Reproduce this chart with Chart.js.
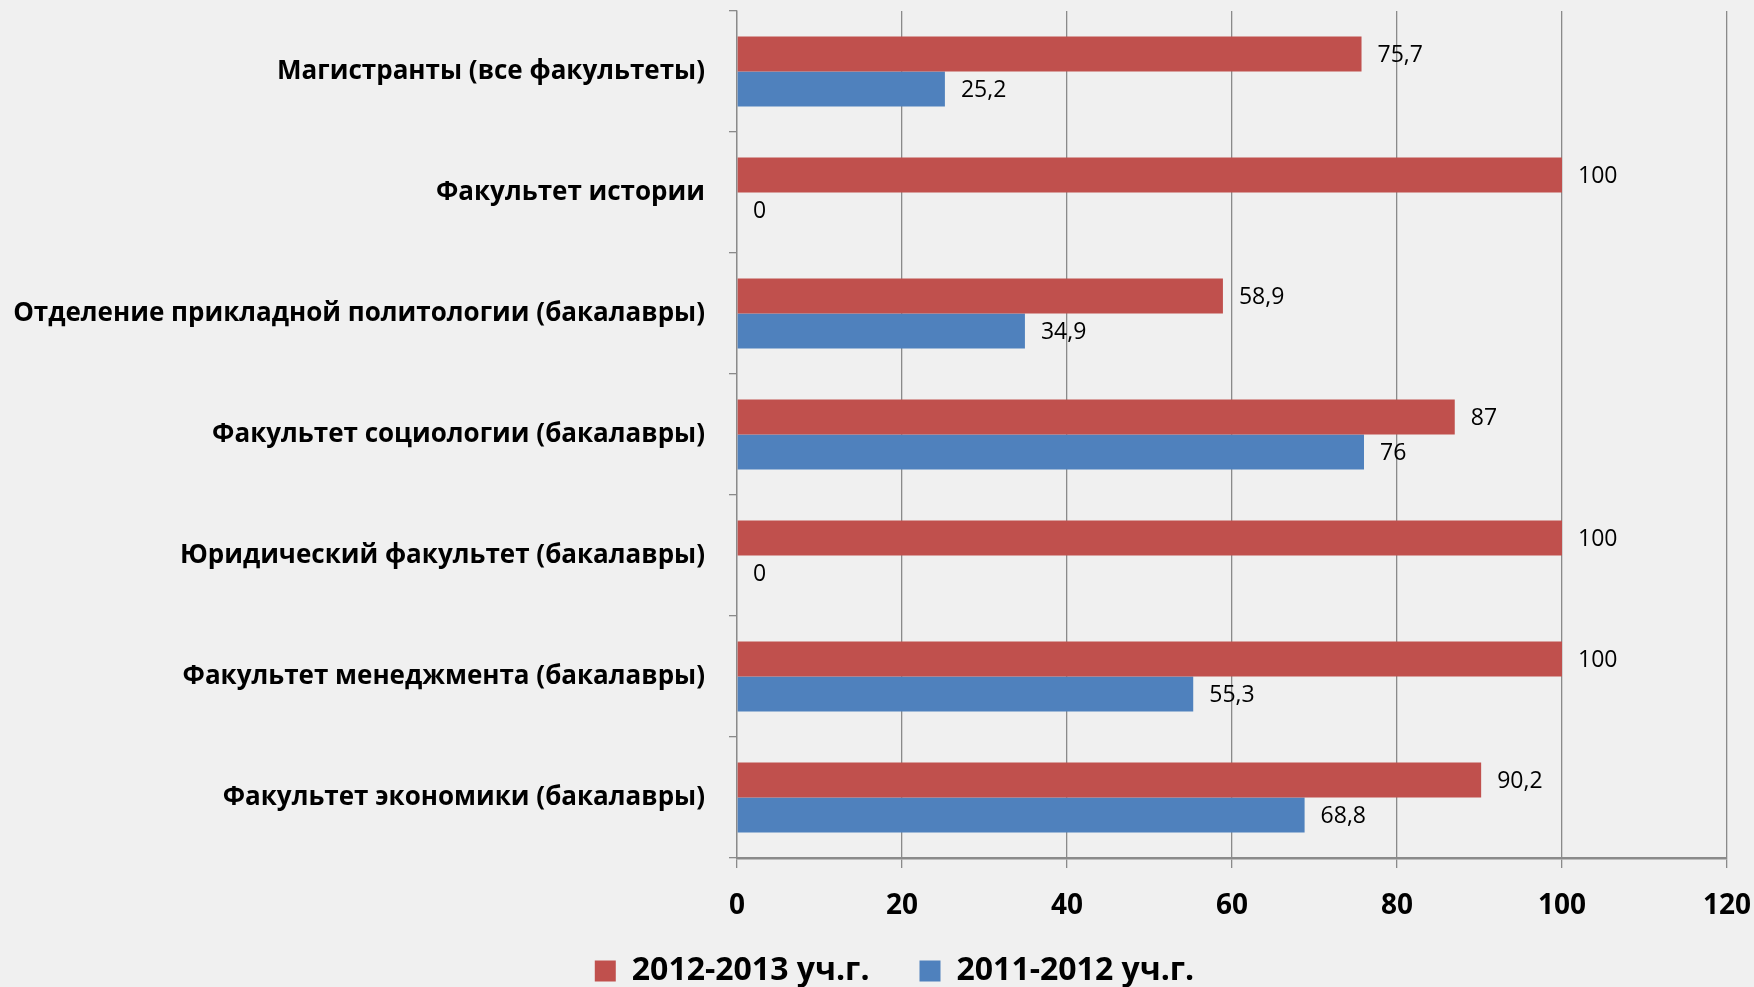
<!DOCTYPE html>
<html>
<head>
<meta charset="utf-8">
<script src="https://cdn.jsdelivr.net/npm/chart.js@4.4.1/dist/chart.umd.min.js"></script>
<style>
  body { margin: 0; background: #f0f0f0; }
  canvas { display: block; }
</style>
</head>
<body>
<canvas id="bar-chart" width="1754" height="987"></canvas>
<script>
// categories, top to bottom
var categories = [
    'Магистранты (все факультеты)',
    'Факультет истории',
    'Отделение прикладной политологии (бакалавры)',
    'Факультет социологии (бакалавры)',
    'Юридический факультет (бакалавры)',
    'Факультет менеджмента (бакалавры)',
    'Факультет экономики (бакалавры)'
]
var series2012 = [75.7, 100, 58.9, 87, 100, 100, 90.2]
var series2011 = [25.2, 0, 34.9, 76, 0, 55.3, 68.8]
var xTicks = [0, 20, 40, 60, 80, 100, 120]

var gridColor = '#8a8a8a'

// paint the grey page behind everything
var background = {
    id: 'background',
    beforeDraw: function(chart) {
        var c = chart.ctx
        c.save()
        c.fillStyle = '#f0f0f0'
        c.fillRect(0, 0, chart.width, chart.height)
        c.restore()
    }
}

// legend sits a bit right of the canvas centre in the original
var legendShift = {
    id: 'legendShift',
    afterLayout: function(chart) {
        if (chart.legend) {
            chart.legend.left += 31
            chart.legend.right += 31
            chart.legend.top -= 18
            chart.legend.bottom -= 18
        }
    }
}

// value labels to the right of each bar, decimal comma
var valueLabels = {
    id: 'valueLabels',
    afterDatasetsDraw: function(chart) {
        var c = chart.ctx
        c.save()
        c.font = '23px "Open Sans"'
        c.fillStyle = '#000'
        c.textAlign = 'left'
        c.textBaseline = 'middle'
        chart.data.datasets.forEach(function(ds, i) {
            chart.getDatasetMeta(i).data.forEach(function(bar, j) {
                var txt = String(ds.data[j]).replace('.', ',')
                c.fillText(txt, bar.x + 16, bar.y + 1)
            })
        })
        c.restore()
    }
}

var ctx = document.getElementById('bar-chart').getContext('2d')

new Chart(ctx, {
    type: 'bar',
    data: {
        labels: categories,
        datasets: [
            {
                label: '2012-2013 уч.г.',
                data: series2012,
                backgroundColor: '#c0504d',
                categoryPercentage: 0.58,
                barPercentage: 1
            },
            {
                label: '2011-2012 уч.г.',
                data: series2011,
                backgroundColor: '#4f81bd',
                categoryPercentage: 0.58,
                barPercentage: 1
            }
        ]
    },
    options: {
        indexAxis: 'y',
        responsive: false,
        animation: false,
        layout: {
            padding: { top: 11, right: 27, left: 0, bottom: -28 }
        },
        plugins: {
            legend: {
                position: 'bottom',
                labels: {
                    color: '#000',
                    font: { family: 'Open Sans', size: 32, weight: 'bold' },
                    boxWidth: 21,
                    boxHeight: 21,
                    padding: 50
                }
            },
            tooltip: { enabled: false }
        },
        scales: {
            x: {
                min: 0,
                max: 120,
                afterBuildTicks: function(scale) {
                    scale.ticks = xTicks.map(function(v) { return { value: v } })
                },
                grid: {
                    color: gridColor,
                    lineWidth: 1.3,
                    tickLength: 10
                },
                border: { color: gridColor, width: 2.5 },
                ticks: {
                    color: '#000',
                    padding: 21,
                    font: { family: 'Open Sans', size: 28, weight: 'bold' }
                },
                afterFit: function(scale) {
                    scale.height = 65
                    scale.paddingLeft = 0
                    scale.paddingRight = 0
                }
            },
            y: {
                grid: {
                    drawOnChartArea: false,
                    color: gridColor,
                    lineWidth: 1.3,
                    tickLength: 8
                },
                border: { color: gridColor, width: 1.3 },
                ticks: {
                    color: '#000',
                    padding: 24,
                    font: { family: 'Open Sans', size: 26, weight: 'bold' }
                },
                afterFit: function(scale) {
                    scale.width = 737
                    scale.paddingTop = 0
                    scale.paddingBottom = 0
                }
            }
        }
    },
    plugins: [background, legendShift, valueLabels]
})
</script>
</body>
</html>
